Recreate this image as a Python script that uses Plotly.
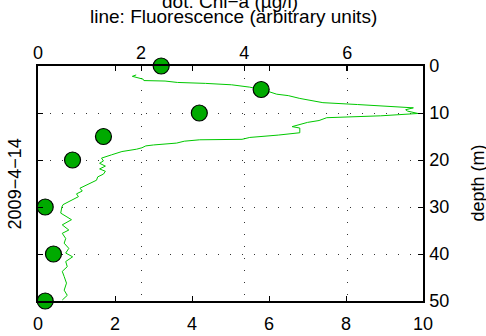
import plotly.graph_objects as go

# Chl-a samples (top axis, ug/l) vs depth (m)
chl_depth = [0, 5, 10, 15, 20, 30, 40, 50]
chl_value = [2.39, 4.33, 3.13, 1.27, 0.67, 0.14, 0.30, 0.14]

# Fluorescence profile (bottom axis, arbitrary units) vs depth (m)
fl_depth = [1.9, 2.2, 2.8, 3.1, 3.2, 3.5, 3.7, 4.0, 4.5, 5.2, 6.0, 6.3, 6.9, 7.4, 7.8,
            8.2, 8.5, 8.9, 9.3, 9.6, 10.1, 10.6, 11.0, 11.6, 12.0, 12.6, 12.9, 13.2,
            13.6, 14.2, 14.7, 15.2, 15.6, 15.7, 16.0, 16.4, 16.8, 17.0, 17.4, 17.7,
            18.2, 18.6, 18.9, 19.6, 20.2, 20.7, 21.3, 21.9, 22.4, 23.0, 23.6, 24.3,
            25.0, 25.5, 26.0, 26.6, 27.2, 27.8, 28.4, 28.9, 29.5, 30.0, 31.3, 32.7,
            33.8, 34.9, 35.6, 36.7, 37.7, 38.8, 39.8, 40.6, 41.6, 42.7, 43.7, 44.8,
            46.2, 47.7, 48.8, 49.8]
fl_value = [2.55, 2.45, 2.73, 2.75, 3.30, 3.62, 4.35, 5.03, 5.50, 5.90, 6.20, 6.50,
            6.80, 7.10, 7.40, 8.30, 9.00, 9.75, 9.55, 9.60, 9.87, 8.90, 7.50, 7.30,
            7.00, 6.70, 6.60, 6.80, 6.80, 6.80, 6.24, 5.50, 5.30, 4.20, 3.80, 3.60,
            3.00, 2.80, 2.70, 2.56, 2.18, 2.00, 1.91, 1.65, 1.70, 1.60, 1.75, 1.60,
            1.75, 1.70, 1.55, 1.52, 1.35, 1.20, 1.09, 1.15, 1.00, 1.05, 0.90, 0.80,
            0.65, 0.62, 0.59, 0.87, 0.63, 0.80, 0.63, 0.72, 0.68, 0.80, 0.72, 0.90,
            0.72, 0.76, 0.63, 0.68, 0.74, 0.68, 0.76, 0.63]

bottom_ticks = [0, 2, 4, 6, 8, 10]
top_ticks = [0, 2, 4, 6]
depth_ticks = [0, 10, 20, 30, 40, 50]

FONT = "Liberation Sans, Arial, sans-serif"

fig = go.Figure()
fig.add_trace(go.Scatter(x=fl_value, y=fl_depth, mode="lines",
                         line=dict(color="#00c800", width=1),
                         xaxis="x", yaxis="y", showlegend=False))
fig.add_trace(go.Scatter(x=chl_value, y=chl_depth, mode="markers",
                         marker=dict(size=16, color="#00aa00",
                                     line=dict(color="black", width=1.2)),
                         xaxis="x2", yaxis="y", cliponaxis=False, showlegend=False))

axis_common = dict(showline=True, linecolor="black", linewidth=1.5,
                   ticks="inside", ticklen=5, tickcolor="black", tickwidth=1,
                   zeroline=False, automargin=False,
                   tickfont=dict(family=FONT, size=18, color="black"))

fig.update_layout(
    width=486, height=336,
    margin=dict(l=38, r=63, t=66, b=35),
    paper_bgcolor="white", plot_bgcolor="white",
    xaxis=dict(range=[0, 10], tickvals=bottom_ticks, showgrid=False,
               mirror="ticks", ticklabelstandoff=6, **axis_common),
    xaxis2=dict(range=[0, 7.47], tickvals=top_ticks, overlaying="x", side="top",
                showgrid=True, gridcolor="#333333", gridwidth=1,
                griddash="1px,11px", ticklabelstandoff=-2, **axis_common),
    yaxis=dict(range=[50, 0], tickvals=depth_ticks, side="right", mirror="ticks",
               showgrid=True, gridcolor="#333333", gridwidth=1,
               griddash="1px,11px", ticklabelstandoff=1, **axis_common),
    annotations=[
        dict(text="dot: Chl\u2212a (\u00b5g/l)", xref="paper", yref="paper",
             x=0.499, y=1.221, xanchor="center", yanchor="bottom", showarrow=False,
             font=dict(family=FONT, size=19, color="black")),
        dict(text="line: Fluorescence (arbitrary units)", xref="paper", yref="paper",
             x=0.509, y=1.157, xanchor="center", yanchor="bottom", showarrow=False,
             font=dict(family=FONT, size=19, color="black")),
        dict(text="2009\u22124\u221214", xref="paper", yref="paper",
             x=-0.06, y=0.5, xanchor="center", yanchor="middle", textangle=-90,
             showarrow=False, font=dict(family=FONT, size=18, color="black")),
        dict(text="depth (m)", xref="paper", yref="paper",
             x=(477 - 38) / 385, y=0.5, xanchor="center", yanchor="middle",
             textangle=-90, showarrow=False,
             font=dict(family=FONT, size=18, color="black")),
    ],
)

fig.write_html("out.html")
